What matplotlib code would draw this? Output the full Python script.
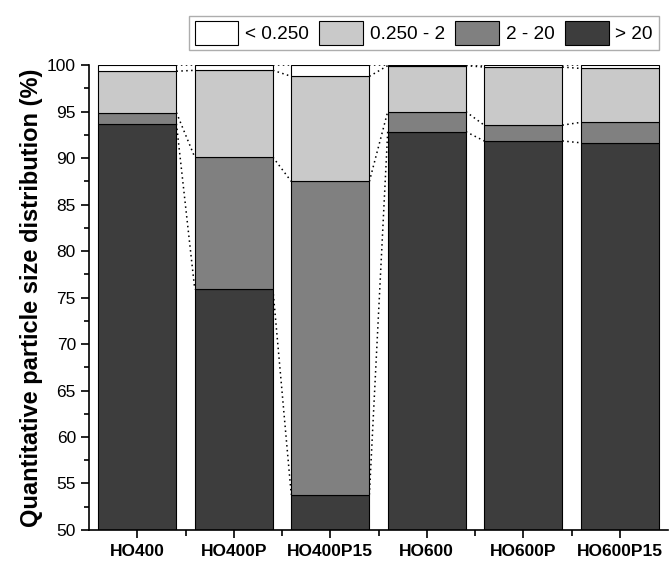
import matplotlib.pyplot as plt
from matplotlib.patches import Patch
from matplotlib.ticker import MultipleLocator
import numpy as np

plt.rcParams['font.family'] = ['Liberation Sans', 'DejaVu Sans']

samples = ['HO400', 'HO400P', 'HO400P15', 'HO600', 'HO600P', 'HO600P15']
size_classes = ['< 0.250', '0.250 - 2', '2 - 20', '> 20']

# fractions per size class (%)
gt20 = [93.7, 75.9, 53.8, 92.85, 91.85, 91.65]
s2_20 = [1.2, 14.2, 33.7, 2.15, 1.7, 2.2]
s025_2 = [4.45, 9.35, 11.3, 4.95, 6.25, 5.8]
lt025 = [0.65, 0.55, 1.2, 0.05, 0.2, 0.35]

colors = ['#ffffff', '#c9c9c9', '#808080', '#3d3d3d']

fig = plt.figure(figsize=(6.7, 5.62), dpi=100)
ax = fig.add_axes([0.133, 0.057, 0.864, 0.827])

x = np.arange(len(samples))
width = 0.81
stack = [gt20, s2_20, s025_2, lt025]
stack_colors = colors[::-1]
bottom = np.zeros(len(samples))
levels = []
for vals, c in zip(stack, stack_colors):
    vals = np.array(vals)
    ax.bar(x, vals, width, bottom=bottom, color=c, edgecolor='black', linewidth=0.8, zorder=2)
    bottom = bottom + vals
    levels.append(bottom.copy())

# dotted connectors between neighbouring bars
for lev in levels:
    for i in range(len(samples) - 1):
        ax.plot([x[i] + width / 2, x[i + 1] - width / 2], [lev[i], lev[i + 1]],
                ls=(0, (1, 2.2)), color='black', lw=1.1, zorder=1)

ax.set_xlim(-0.5, len(samples) - 0.5)
ax.set_ylim(50, 100)
ax.yaxis.set_major_locator(MultipleLocator(5))
ax.yaxis.set_minor_locator(MultipleLocator(2.5))
ax.set_xticks(x)
ax.set_xticks(x[:-1] + 0.5, minor=True)
ax.set_xticklabels(samples, fontweight='bold', fontsize=12.5)
ax.tick_params(axis='y', which='major', labelsize=12.5, length=6, width=1.2, direction='out')
ax.tick_params(axis='y', which='minor', length=3.5, width=1.2, direction='out')
ax.tick_params(axis='x', which='major', length=6, width=1.2, direction='out', pad=4)
ax.tick_params(axis='x', which='minor', length=4, width=1.2, direction='out')
for s in ['top', 'right']:
    ax.spines[s].set_visible(False)
for s in ['left', 'bottom']:
    ax.spines[s].set_linewidth(1.2)

ax.set_ylabel('Quantitative particle size distribution (%)', fontsize=17, fontweight='bold', labelpad=3)

handles = [Patch(facecolor=c, edgecolor='black', linewidth=0.8) for c in colors]
fig.legend(handles, size_classes, loc='upper right', bbox_to_anchor=(0.983, 0.972), ncol=4,
           fontsize=13.7, handlelength=2.3, handleheight=1.5, handletextpad=0.35,
           columnspacing=0.55, borderpad=0.3, borderaxespad=0, frameon=True,
           fancybox=False, edgecolor='#999999')

fig.savefig('out.png', dpi=100)
